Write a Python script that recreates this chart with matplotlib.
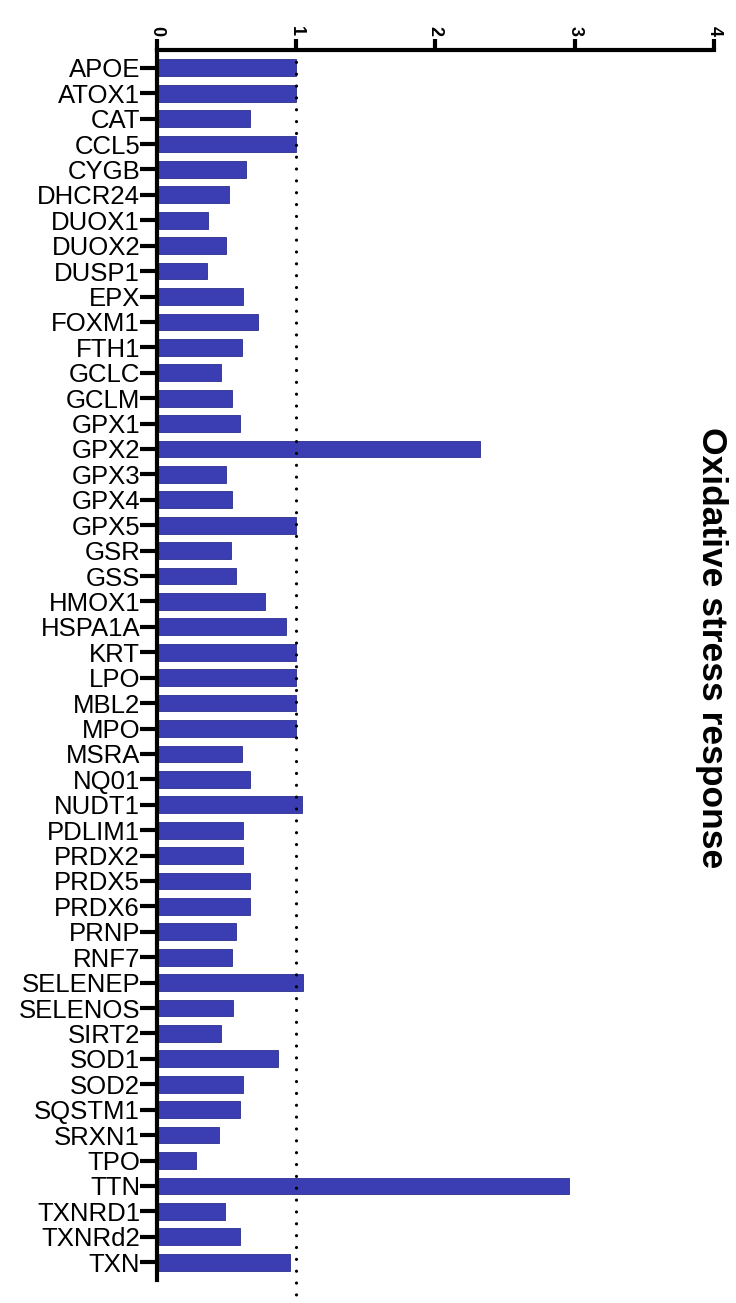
import matplotlib
matplotlib.use("Agg")
import matplotlib.pyplot as plt
import numpy as np

plt.rcParams['font.family'] = ['Liberation Sans', 'DejaVu Sans']

genes = ['APOE', 'ATOX1', 'CAT', 'CCL5', 'CYGB', 'DHCR24', 'DUOX1', 'DUOX2',
         'DUSP1', 'EPX', 'FOXM1', 'FTH1', 'GCLC', 'GCLM', 'GPX1', 'GPX2',
         'GPX3', 'GPX4', 'GPX5', 'GSR', 'GSS', 'HMOX1', 'HSPA1A', 'KRT',
         'LPO', 'MBL2', 'MPO', 'MSRA', 'NQ01', 'NUDT1', 'PDLIM1', 'PRDX2',
         'PRDX5', 'PRDX6', 'PRNP', 'RNF7', 'SELENEP', 'SELENOS', 'SIRT2',
         'SOD1', 'SOD2', 'SQSTM1', 'SRXN1', 'TPO', 'TTN', 'TXNRD1', 'TXNRd2',
         'TXN']
fold_change = [1.00, 1.00, 0.67, 1.00, 0.64, 0.52, 0.37, 0.50,
               0.36, 0.62, 0.73, 0.61, 0.46, 0.54, 0.60, 2.32,
               0.50, 0.54, 1.00, 0.53, 0.57, 0.78, 0.93, 1.00,
               1.00, 1.00, 1.00, 0.61, 0.67, 1.04, 0.62, 0.62,
               0.67, 0.67, 0.57, 0.54, 1.05, 0.55, 0.46,
               0.87, 0.62, 0.60, 0.45, 0.28, 2.96, 0.49, 0.60,
               0.96]
x_ticks = [0, 1, 2, 3, 4]

fig = plt.figure(figsize=(7.36, 13.03), dpi=100)
ax = fig.add_axes([0.213, 0.0177, 0.757, 0.9439])

y = np.arange(len(genes))
ax.barh(y, fold_change, height=0.66, color='#3a3eb2', edgecolor='#2b2e8c',
        linewidth=0.6)

# reference line at fold change = 1
ax.plot([1, 1], [-0.7, 48.3], color='black', linewidth=2.3,
        linestyle=(0, (0.01, 3.7)), dash_capstyle='round', clip_on=False,
        zorder=3)

ax.set_xlim(0, 4)
ax.set_ylim(len(genes) - 0.3, -0.7)
ax.set_yticks(y)
ax.set_yticklabels(genes, fontsize=18.5)
ax.xaxis.tick_top()
ax.set_xticks(x_ticks)
ax.set_xticklabels([str(t) for t in x_ticks], rotation=-90, fontsize=13,
                   fontweight='bold')

for side in ['right', 'bottom']:
    ax.spines[side].set_visible(False)
for side in ['left', 'top']:
    ax.spines[side].set_linewidth(3)

ax.tick_params(axis='y', length=12, width=3, pad=0)
ax.tick_params(axis='x', length=8, width=3, pad=2)

fig.text(0.967, 0.503, 'Oxidative stress response', rotation=-90,
         fontsize=25.5, fontweight='bold', ha='center', va='center')

fig.savefig('out.png', dpi=100)
